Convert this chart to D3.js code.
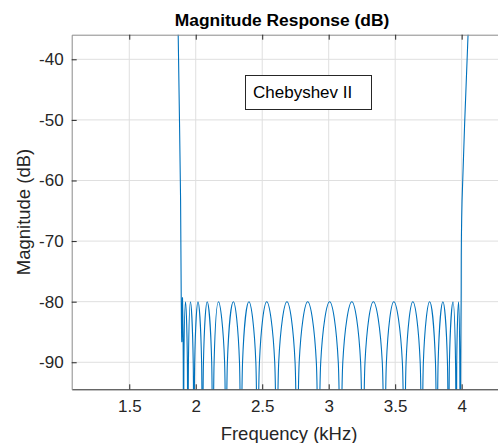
<!DOCTYPE html>
<html><head><meta charset="utf-8">
<script src="https://cdn.jsdelivr.net/npm/d3@7"></script>
<style>
html,body{margin:0;padding:0;background:#fff;}
svg{display:block;font-family:"Liberation Sans",Arial,sans-serif;}
</style></head>
<body>
<svg id="c" width="498" height="443"></svg>
<script>
// ---- data ----
const xTicks = [1.5, 2, 2.5, 3, 3.5, 4];
const yTicks = [-90, -80, -70, -60, -50, -40];
const xDomain = [1.067, 4.326];
const yDomain = [-94.46, -35.94];
const legendLabel = "Chebyshev II";
// lower transition band (kHz, dB)
const edgeLoKHz = [1.864, 1.868, 1.886, 1.891, 1.895, 1.899, 1.901, 1.906];
const edgeLoDb  = [-30,   -36,   -63.3, -80,   -86.6, -81,   -80,   -90];
// stopband nulls (kHz), plotted at nullDb (far below the axis floor)
const nullKHz = [1.908, 1.940, 1.986, 2.050, 2.128, 2.227, 2.340, 2.464, 2.609, 2.762,
                 2.923, 3.089, 3.257, 3.419, 3.569, 3.701, 3.814, 3.902, 3.960, 3.989];
const nullDb = -115;
// stopband ripple peaks (kHz) at peakDb
const peakKHz = [1.923, 1.960, 2.017, 2.086, 2.171, 2.283, 2.400, 2.534, 2.686, 2.842,
                 3.007, 3.174, 3.336, 3.490, 3.633, 3.759, 3.859, 3.935, 3.977];
const peakDb = -80;
// -90 dB crossings on each side of every lobe
const cross90Lo = [1.911, 1.945, 1.992, 2.058, 2.138, 2.238, 2.352, 2.479, 2.624, 2.778,
                   2.940, 3.106, 3.273, 3.434, 3.582, 3.712, 3.823, 3.908, 3.963];
const cross90Hi = [1.937, 1.981, 2.044, 2.120, 2.217, 2.329, 2.452, 2.594, 2.747, 2.907,
                   3.072, 3.240, 3.403, 3.554, 3.688, 3.803, 3.893, 3.954, 3.986];
// upper transition band (kHz, dB)
const edgeHiKHz = [3.993, 3.996, 4.003, 4.048, 4.059];
const edgeHiDb  = [-90,   -80,   -63.3, -36,   -30];

// ---- build the trace ----
const pts = [];
edgeLoKHz.forEach((f, i) => pts.push([f, edgeLoDb[i]]));
pts.push([nullKHz[0], nullDb]);
peakKHz.forEach((f, i) => {
  pts.push([cross90Lo[i], -90]);
  pts.push([f, peakDb]);
  pts.push([cross90Hi[i], -90]);
  pts.push([nullKHz[i + 1], nullDb]);
});
edgeHiKHz.forEach((f, i) => pts.push([f, edgeHiDb[i]]));

// ---- layout ----
const L = 71.7, T = 34.7, R = 505, B = 389.3;
const svg = d3.select("#c");
const x = d3.scaleLinear().domain(xDomain).range([L, R]);
const y = d3.scaleLinear().domain(yDomain).range([B, T]);

svg.append("defs").append("clipPath").attr("id", "clip")
  .append("rect").attr("x", L).attr("y", T).attr("width", R - L).attr("height", B - T);

// grid
const grid = svg.append("g").attr("stroke", "#dfdfdf").attr("stroke-width", 1);
xTicks.forEach(t => grid.append("line").attr("x1", x(t)).attr("x2", x(t)).attr("y1", T).attr("y2", B));
yTicks.forEach(t => grid.append("line").attr("x1", L).attr("x2", R).attr("y1", y(t)).attr("y2", y(t)));

// trace
svg.append("path").datum(pts)
  .attr("clip-path", "url(#clip)")
  .attr("fill", "none").attr("stroke", "#0072BD").attr("stroke-width", 1.1)
  .attr("d", d3.line().x(d => x(d[0])).y(d => y(d[1])).curve(d3.curveCatmullRom.alpha(0)));

// axes
const fmt = d => String(d);
const xAxis = svg.append("g").attr("transform", `translate(0,${B})`)
  .call(d3.axisBottom(x).tickValues(xTicks).tickFormat(fmt).tickSizeInner(-5).tickSizeOuter(0).tickPadding(11));
const xTop = svg.append("g").attr("transform", `translate(0,${T})`)
  .call(d3.axisTop(x).tickValues(xTicks).tickFormat("").tickSizeInner(-5).tickSizeOuter(0));
const yAxis = svg.append("g").attr("transform", `translate(${L},0)`)
  .call(d3.axisLeft(y).tickValues(yTicks).tickFormat(fmt).tickSizeInner(-5).tickSizeOuter(0).tickPadding(8));

[xAxis, yAxis].forEach(g => {
  g.selectAll("text").attr("font-size", 17).attr("fill", "#262626")
    .attr("font-family", "'Liberation Sans', Arial, sans-serif");
  g.selectAll(".tick line").attr("stroke", "#262626");
});
xTop.selectAll(".tick line").attr("stroke", "#262626");
xAxis.select(".domain").attr("stroke", "#262626");
yAxis.select(".domain").attr("stroke", "#8a8a8a");
xTop.select(".domain").attr("stroke", "#8a8a8a");

// title and labels
svg.append("text").attr("x", 282).attr("y", 26).attr("text-anchor", "middle")
  .attr("font-size", 17.4).attr("font-weight", "bold").attr("fill", "#000")
  .text("Magnitude Response (dB)");
svg.append("text").attr("transform", `translate(30,212) rotate(-90)`).attr("text-anchor", "middle")
  .attr("font-size", 18.5).attr("fill", "#262626").text("Magnitude (dB)");
svg.append("text").attr("x", 289).attr("y", 440).attr("text-anchor", "middle")
  .attr("font-size", 18.5).attr("fill", "#262626").text("Frequency (kHz)");

// legend
svg.append("rect").attr("x", 245.5).attr("y", 75.5).attr("width", 126).attr("height", 34)
  .attr("fill", "#fff").attr("stroke", "#262626").attr("stroke-width", 1);
svg.append("text").attr("x", 253).attr("y", 98).attr("font-size", 17).attr("fill", "#000")
  .text(legendLabel);
</script>
</body></html>
